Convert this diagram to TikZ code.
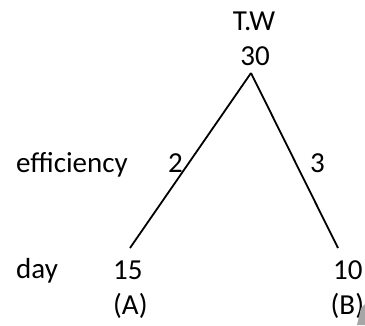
\documentclass[tikz,border=0pt]{standalone}
\usepackage{fontspec}
\setmainfont{Carlito}
\begin{document}
\begin{tikzpicture}[x=1pt,y=-1pt,
  lbl/.style={inner sep=0pt,anchor=base west,font=\fontsize{29}{33}\selectfont},
  lblc/.style={inner sep=0pt,anchor=base,font=\fontsize{29}{33}\selectfont},
  edge/.style={line width=1.8pt,black}]
\useasboundingbox (0,0) rectangle (365,325);
\node[lblc] (tw) at (254,30) {T.W};
\node[lblc] (thirty) at (255,65) {30};
\node[lbl] (eff) at (16,172) {efficiency};
\node[lbl] (two) at (168,172) {2};
\node[lbl] (three) at (310,172) {3};
\node[lbl] (day) at (16,278) {day};
\node[lbl] (a15) at (113,279) {15};
\node[lbl] (b10) at (333,279) {10};
\node[lbl] (A) at (113,314) {(A)};
\node[lbl] (B) at (330.5,314) {(B)};
\coordinate (apex) at (251,73);
\coordinate (lend) at (130,248);
\coordinate (rend) at (338,248);
\draw[edge] (apex) -- (lend);
\draw[edge] (apex) -- (rend);
\fill[gray!70] (357,325) -- (361,308) -- (365,304) -- (365,325) -- cycle;
\end{tikzpicture}
\end{document}
